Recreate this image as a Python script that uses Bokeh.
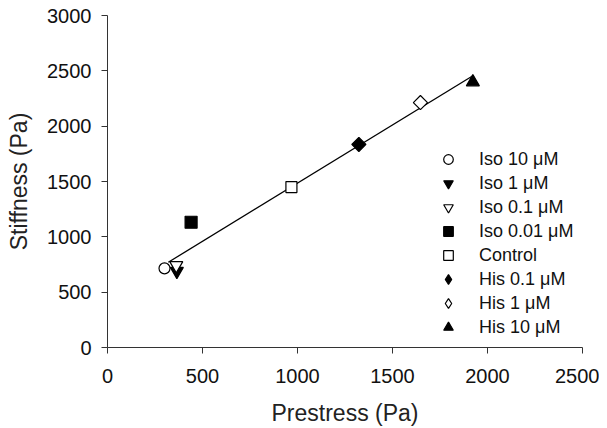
from bokeh.plotting import figure
from bokeh.models import Legend, LegendItem
from bokeh.embed import file_html
from bokeh.resources import INLINE
import numpy as np

labels = ["Iso 10 μM", "Iso 1 μM", "Iso 0.1 μM", "Iso 0.01 μM", "Control",
          "His 0.1 μM", "His 1 μM", "His 10 μM"]
prestress = [300, 365, 362, 440, 968, 1323, 1647, 1923]
stiffness = [715, 690, 742, 1132, 1450, 1835, 2213, 2398]
markers = ["circle", "inverted_triangle", "inverted_triangle", "square", "square",
           "diamond", "diamond", "triangle"]
filled = [False, True, False, True, False, True, False, True]
sizes = [11, 13, 13, 12, 11, 10, 10, 13]

x_ticks = [0, 500, 1000, 1500, 2000, 2500]
y_ticks = [0, 500, 1000, 1500, 2000, 2500, 3000]

FONT = "Liberation Sans"

p = figure(width=599, height=428, output_backend="svg", toolbar_location=None,
           x_range=(0, 2500), y_range=(0, 3000),
           min_border_left=107, min_border_right=17, min_border_top=15, min_border_bottom=81)
p.outline_line_color = None
p.grid.visible = False
p.background_fill_color = "white"
p.border_fill_color = "white"

# regression line
coef = np.polyfit(prestress, stiffness, 1)
lx = np.array([min(prestress) + 20, max(prestress)])
p.line(lx, np.polyval(coef, lx), line_color="black", line_width=1.3)

items = []
for lab, x, y, m, f, s in zip(labels, prestress, stiffness, markers, filled, sizes):
    fc = "black" if f else "white"
    if m == "diamond":
        # legend glyph (hidden beneath), plot glyph drawn as a square turned 45 degrees
        r = p.scatter([x], [y], marker="diamond", size=4, line_color="black",
                      line_width=1.2, fill_color=fc)
        p.scatter([x], [y], marker="square", size=s, angle=np.pi / 4, line_color="black",
                  line_width=1.2, fill_color=fc)
    else:
        r = p.scatter([x], [y], marker=m, size=s, line_color="black", line_width=1.2,
                      fill_color=fc)
    items.append(LegendItem(label=lab, renderers=[r]))

legend = Legend(items=items, location=(326, 8), orientation="vertical",
                padding=0, margin=0, spacing=0, glyph_width=30, glyph_height=24,
                label_height=24, label_standoff=16,
                label_text_font=FONT, label_text_font_size="18px",
                label_text_color="#111111",
                background_fill_alpha=0, border_line_color=None)
p.add_layout(legend, "center")

for ax in (p.xaxis, p.yaxis):
    ax.axis_line_color = "#333333"
    ax.major_tick_line_color = "#333333"
    ax.minor_tick_line_color = None
    ax.major_tick_out = 6
    ax.major_tick_in = 0
    ax.major_label_text_font = FONT
    ax.major_label_text_font_size = "20px"
    ax.major_label_text_color = "#111111"
    ax.axis_label_text_font = FONT
    ax.axis_label_text_font_size = "23px"
    ax.axis_label_text_font_style = "normal"
    ax.axis_label_text_color = "#222222"

p.xaxis.ticker = x_ticks
p.yaxis.ticker = y_ticks
p.xaxis.axis_label = "Prestress (Pa)"
p.yaxis.axis_label = "Stiffness (Pa)"
p.xaxis.major_label_standoff = 15
p.yaxis.major_label_standoff = 10
p.xaxis.axis_label_standoff = 14
p.yaxis.axis_label_standoff = 12

open("out.html", "w").write(file_html(p, INLINE))
